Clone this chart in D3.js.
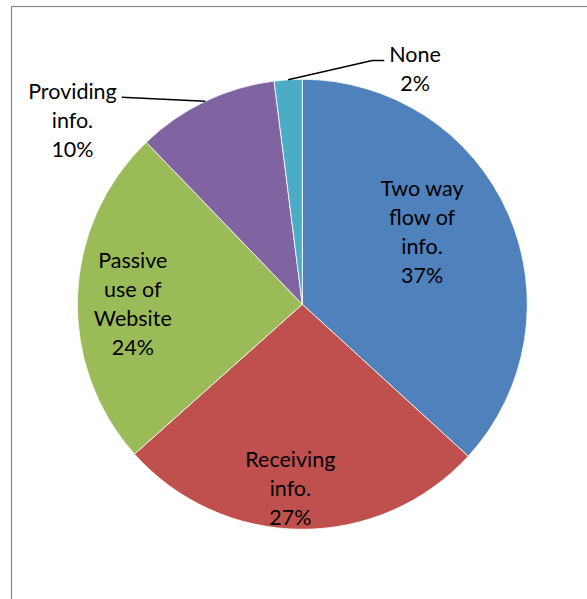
<!DOCTYPE html>
<html>
<head>
<meta charset="utf-8">
<script src="https://cdn.jsdelivr.net/npm/d3@7"></script>
<style>
  body { margin: 0; background: #fff; }
  text { font-family: Lato, "Open Sans", sans-serif; font-size: 21.5px; fill: #000; }
</style>
</head>
<body>
<div id="chart"></div>
<script>
// slices, clockwise from 12 o'clock (shares, labels show rounded %)
var categories = ["Two way flow of info.", "Receiving info.", "Passive use of Website", "Providing info.", "None"];
var values = [36.8, 26.6, 24.4, 10.2, 2.0];
var nameLines = [
  ["Two way", "flow of", "info."],
  ["Receiving", "info."],
  ["Passive", "use of", "Website"],
  ["Providing", "info."],
  ["None"]
];
var colors = ["#4F81BD", "#C0504D", "#9BBB59", "#8064A2", "#4BACC6"];

// label placement (polar, around pie centre): angle in degrees, radius in px
var labelPolar = [[58.8, 140], [183.7, 185], [270, 169.5], [308.7, 294.5], [25.6, 261]];
var outside = [false, false, false, true, true];

var svgWidth = 587;
var svgHeight = 599;
var cx = 302.3, cy = 304.3, radius = 225;
var lineH = 29;

var svg = d3.select("#chart")
  .append("svg")
  .attr("width", svgWidth)
  .attr("height", svgHeight);

// chart area frame
svg.append("rect")
  .attr("x", 11.5)
  .attr("y", 6.5)
  .attr("width", 700)
  .attr("height", 700)
  .attr("fill", "none")
  .attr("stroke", "#8a8a8a")
  .attr("stroke-width", 1.2);

var data = categories.map((c, i) => ({ name: c, value: values[i], i: i }));

var pie = d3.pie().sort(null).value(d => d.value);
var arc = d3.arc().innerRadius(0).outerRadius(radius);
var arcs = pie(data);

var g = svg.append("g").attr("transform", `translate(${cx}, ${cy})`);

g.selectAll("path")
  .data(arcs)
  .enter()
  .append("path")
  .attr("d", arc)
  .attr("fill", d => colors[d.data.i])
  .attr("stroke", "#fff")
  .attr("stroke-width", 0.8);

// labels
arcs.forEach(function(d, i) {
  var a = labelPolar[i][0] * Math.PI / 180;
  var lx = labelPolar[i][1] * Math.sin(a);
  var ly = -labelPolar[i][1] * Math.cos(a);
  var lines = nameLines[i].concat([Math.round(d.data.value) + "%"]);
  var top = ly - (lines.length - 1) * lineH / 2;

  var t = g.append("text").attr("text-anchor", "middle");
  lines.forEach(function(s, k) {
    t.append("tspan")
      .attr("x", lx)
      .attr("y", top + k * lineH)
      .attr("dy", "0.35em")
      .text(s);
  });

  if (outside[i]) {
    var mid = (d.startAngle + d.endAngle) / 2;
    var px = radius * Math.sin(mid), py = -radius * Math.cos(mid);
    var w = t.select("tspan").node().getComputedTextLength();
    var yy = top + 6;
    var pts;
    if (lx < 0) {
      pts = [[px, py], [lx + w / 2 + 5, yy]];
    } else {
      var ex = lx - w / 2 - 5;
      pts = [[px, py], [ex - 12, yy], [ex, yy]];
    }
    g.append("path")
      .attr("d", d3.line()(pts))
      .attr("fill", "none")
      .attr("stroke", "#000")
      .attr("stroke-width", 1.5);
  }
});
</script>
</body>
</html>
